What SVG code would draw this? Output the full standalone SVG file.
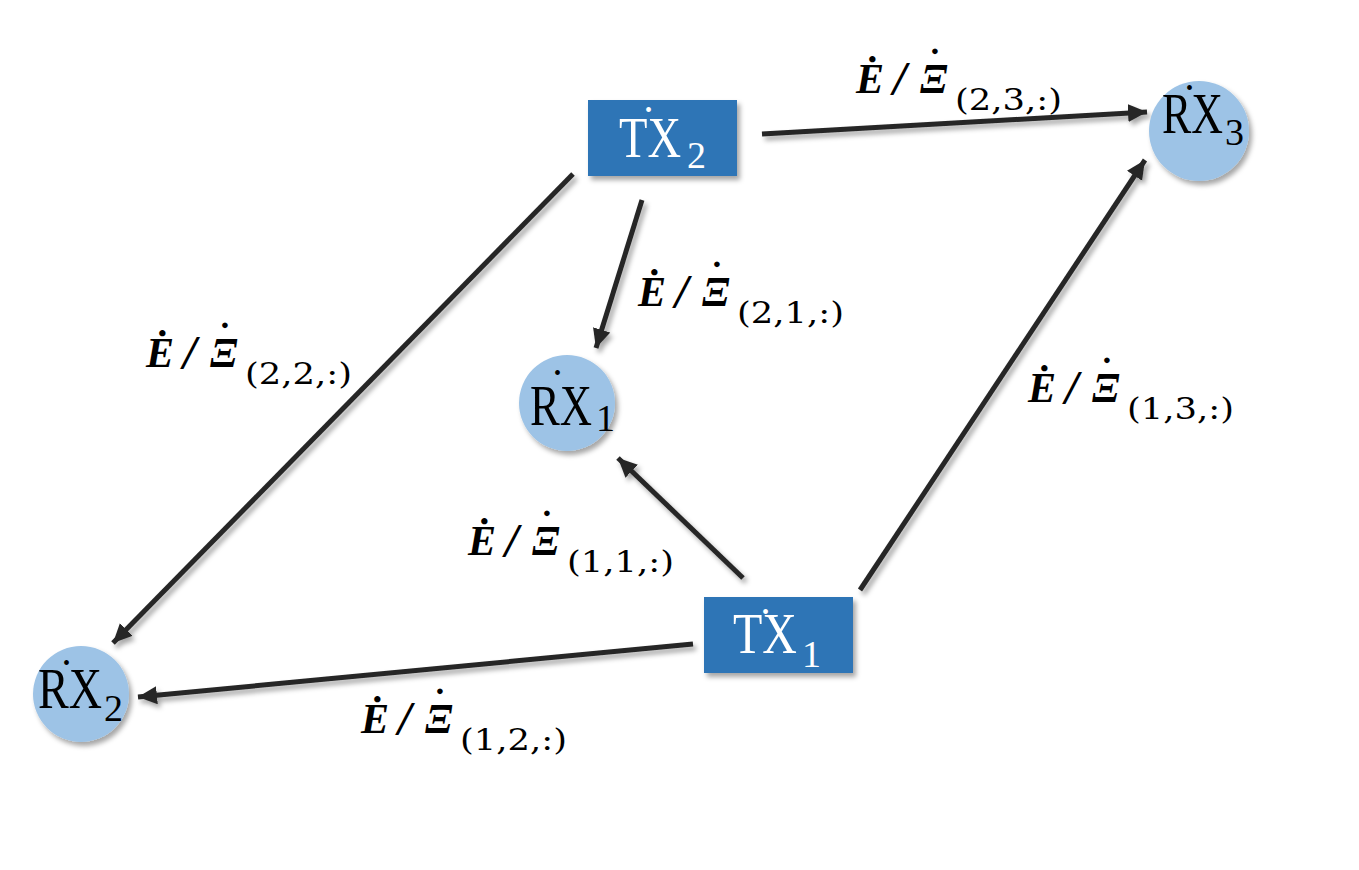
<svg xmlns="http://www.w3.org/2000/svg" width="1359" height="870" viewBox="0 0 1359 870">
<defs>
<filter id="sh" x="-20%" y="-20%" width="150%" height="150%">
<feDropShadow dx="3" dy="4" stdDeviation="2.5" flood-color="#000" flood-opacity="0.35"/>
</filter>
<marker id="ah" markerUnits="userSpaceOnUse" markerWidth="22" markerHeight="20" refX="19" refY="9" orient="auto">
<path d="M0,0 L19,9 L0,18 Z" fill="#262626"/>
</marker>
<style>
.tx{fill:#2E75B6}
.rx{fill:#9DC3E6}
.nt{font-family:"Liberation Serif",serif;font-size:57px}
.ns{font-size:38px}
.dot{font-size:20px}
.w{fill:#fff}
.k{fill:#000}
.c{stroke:#262626;stroke-width:5;fill:none;marker-end:url(#ah)}
.m{font-family:"Liberation Serif",serif;font-size:42px;font-weight:bold;font-style:italic;fill:#000}
.sl{font-size:48px}
.md{font-size:13px;font-style:normal}
.sb{font-family:"DejaVu Serif",serif;font-size:30px;font-weight:normal;font-style:normal}
</style>
</defs>
<rect width="1359" height="870" fill="#fff"/>
<g id="connectors" filter="url(#sh)">
<line class="c" x1="762" y1="134" x2="1147" y2="112"/>
<line class="c" x1="573" y1="174" x2="113" y2="643"/>
<line class="c" x1="642" y1="200" x2="596" y2="348"/>
<line class="c" x1="743" y1="578" x2="618" y2="458"/>
<line class="c" x1="860" y1="590" x2="1145" y2="160"/>
<line class="c" x1="693" y1="644" x2="138" y2="697"/>
</g>
<g id="TX2">
<rect class="tx" x="588" y="100" width="149" height="76" filter="url(#sh)"/>
<text class="nt w"><tspan x="619" y="157" textLength="62" lengthAdjust="spacingAndGlyphs">TX</tspan><tspan class="ns" x="687" y="168">2</tspan><tspan class="dot" x="645" y="117">•</tspan></text>
</g>
<g id="TX1">
<rect class="tx" x="704" y="597" width="149" height="76" filter="url(#sh)"/>
<text class="nt w"><tspan x="733" y="653" textLength="64" lengthAdjust="spacingAndGlyphs">TX</tspan><tspan class="ns" x="802" y="667">1</tspan><tspan class="dot" x="762" y="619">•</tspan></text>
</g>
<g id="RX1">
<circle class="rx" cx="567" cy="403" r="48" filter="url(#sh)"/>
<text class="nt k"><tspan x="530" y="425" textLength="62" lengthAdjust="spacingAndGlyphs">RX</tspan><tspan class="ns" x="596" y="431">1</tspan><tspan class="dot" x="554" y="380">•</tspan></text>
</g>
<g id="RX2">
<circle class="rx" cx="81" cy="694" r="48" filter="url(#sh)"/>
<text class="nt k"><tspan x="38" y="708" textLength="64" lengthAdjust="spacingAndGlyphs">RX</tspan><tspan class="ns" x="104" y="721">2</tspan><tspan class="dot" x="63" y="670">•</tspan></text>
</g>
<g id="RX3">
<circle class="rx" cx="1199" cy="131" r="50" filter="url(#sh)"/>
<text class="nt k"><tspan x="1162" y="133" textLength="61" lengthAdjust="spacingAndGlyphs">RX</tspan><tspan class="ns" x="1225" y="145">3</tspan><tspan class="dot" x="1186" y="95">•</tspan></text>
</g>
<g id="labels">
<text class="m"><tspan x="856" y="93">Ė</tspan><tspan class="sl" x="893" y="95">/</tspan><tspan x="920" y="93">Ξ</tspan><tspan class="md" x="931" y="55">●</tspan><tspan class="sb" x="955" y="110" textLength="107" lengthAdjust="spacingAndGlyphs">(2,3,:)</tspan></text>
<text class="m"><tspan x="638" y="306">Ė</tspan><tspan class="sl" x="675" y="308">/</tspan><tspan x="702" y="306">Ξ</tspan><tspan class="md" x="713" y="268">●</tspan><tspan class="sb" x="737" y="323" textLength="107" lengthAdjust="spacingAndGlyphs">(2,1,:)</tspan></text>
<text class="m"><tspan x="146" y="367">Ė</tspan><tspan class="sl" x="183" y="369">/</tspan><tspan x="210" y="367">Ξ</tspan><tspan class="md" x="221" y="329">●</tspan><tspan class="sb" x="245" y="384" textLength="107" lengthAdjust="spacingAndGlyphs">(2,2,:)</tspan></text>
<text class="m"><tspan x="1028" y="402">Ė</tspan><tspan class="sl" x="1065" y="404">/</tspan><tspan x="1092" y="402">Ξ</tspan><tspan class="md" x="1103" y="364">●</tspan><tspan class="sb" x="1127" y="419" textLength="107" lengthAdjust="spacingAndGlyphs">(1,3,:)</tspan></text>
<text class="m"><tspan x="468" y="555">Ė</tspan><tspan class="sl" x="505" y="557">/</tspan><tspan x="532" y="555">Ξ</tspan><tspan class="md" x="543" y="517">●</tspan><tspan class="sb" x="567" y="572" textLength="107" lengthAdjust="spacingAndGlyphs">(1,1,:)</tspan></text>
<text class="m"><tspan x="361" y="733">Ė</tspan><tspan class="sl" x="398" y="735">/</tspan><tspan x="425" y="733">Ξ</tspan><tspan class="md" x="436" y="695">●</tspan><tspan class="sb" x="460" y="750" textLength="107" lengthAdjust="spacingAndGlyphs">(1,2,:)</tspan></text>
</g>
</svg>
